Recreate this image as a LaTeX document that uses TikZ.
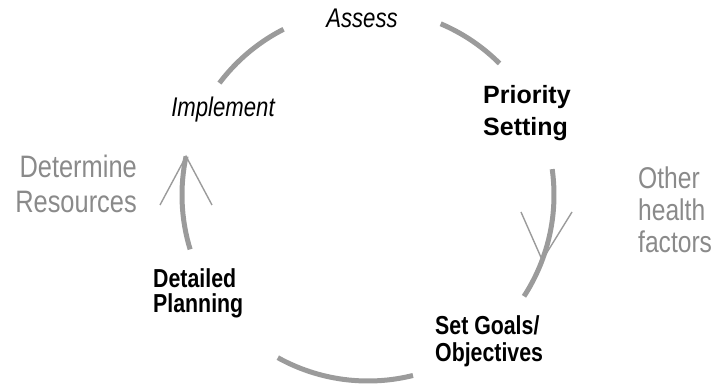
\documentclass[tikz,border=0pt]{standalone}
\usepackage{fontspec}
\setmainfont{Liberation Sans}[FakeStretch=0.82]
\newfontfamily\widefont{Liberation Sans}
\definecolor{ringgray}{RGB}{155,155,155}
\definecolor{sidegray}{RGB}{138,138,138}
\tikzset{
  ring/.style={draw=ringgray, line width=5pt},
  tipline/.style={draw=ringgray, line width=1.4pt},
  stage/.style={inner sep=0pt, anchor=north west, align=left},
  turn/.style={inner sep=0pt, anchor=base, font=\itshape\fontsize{27}{28}\selectfont},
  side/.style={inner sep=0pt, text=sidegray}
}
\begin{document}
\begin{tikzpicture}[x=1pt,y=1pt]
	\useasboundingbox (-368,-190) rectangle (350,195);
	% arc ends
	\coordinate (AA) at (67:186);
	\coordinate (AB) at (8:186);
	\coordinate (AC) at (-76:186);
	\coordinate (AD) at (197:186);
	\coordinate (AE) at (143:186);
	
	\draw[ring] (AA) arc[start angle=67, end angle=45, radius=186];
	\draw[ring] (AB) arc[start angle=8, end angle=-33, radius=186];
	\draw[ring] (AC) arc[start angle=-76, end angle=-119, radius=186];
	\draw[ring] (AD) arc[start angle=197, end angle=168, radius=186];
	\draw[ring] (AE) arc[start angle=143, end angle=117, radius=186];
	
	% open arrow heads
	\coordinate (TR) at (-20.5:186);
	\coordinate (TRa) at (153,-17);
	\coordinate (TRb) at (204,-17);
	\coordinate (TL) at (168:186);
	\coordinate (TLa) at (-208,-10);
	\coordinate (TLb) at (-156,-10);
	\draw[tipline] (TRa)--(TR)--(TRb);
	\draw[tipline] (TLa)--(TL)--(TLb);
	
	\node[turn] (assess) at (-6,167) {Assess};
	\node[turn] (implement) at (-145,78) {Implement};
	\node[stage, font=\widefont\bfseries\fontsize{25}{32}\selectfont] (priority) at (115,110) {Priority\\Setting};
	\node[stage, font=\bfseries\fontsize{26}{25}\selectfont] (planning) at (-215,-73) {Detailed\\Planning};
	\node[stage, font=\bfseries\fontsize{26}{27}\selectfont] (goals) at (67,-120) {Set Goals/\\Objectives};
	\node[side, anchor=north east, align=right, font=\fontsize{31}{35}\selectfont] (resources) at (-231,40) {Determine\\Resources};
	\node[side, anchor=north west, align=left, font=\fontsize{30}{32}\selectfont] (factors) at (270,28) {Other\\health\\factors};
\end{tikzpicture}
\end{document}
